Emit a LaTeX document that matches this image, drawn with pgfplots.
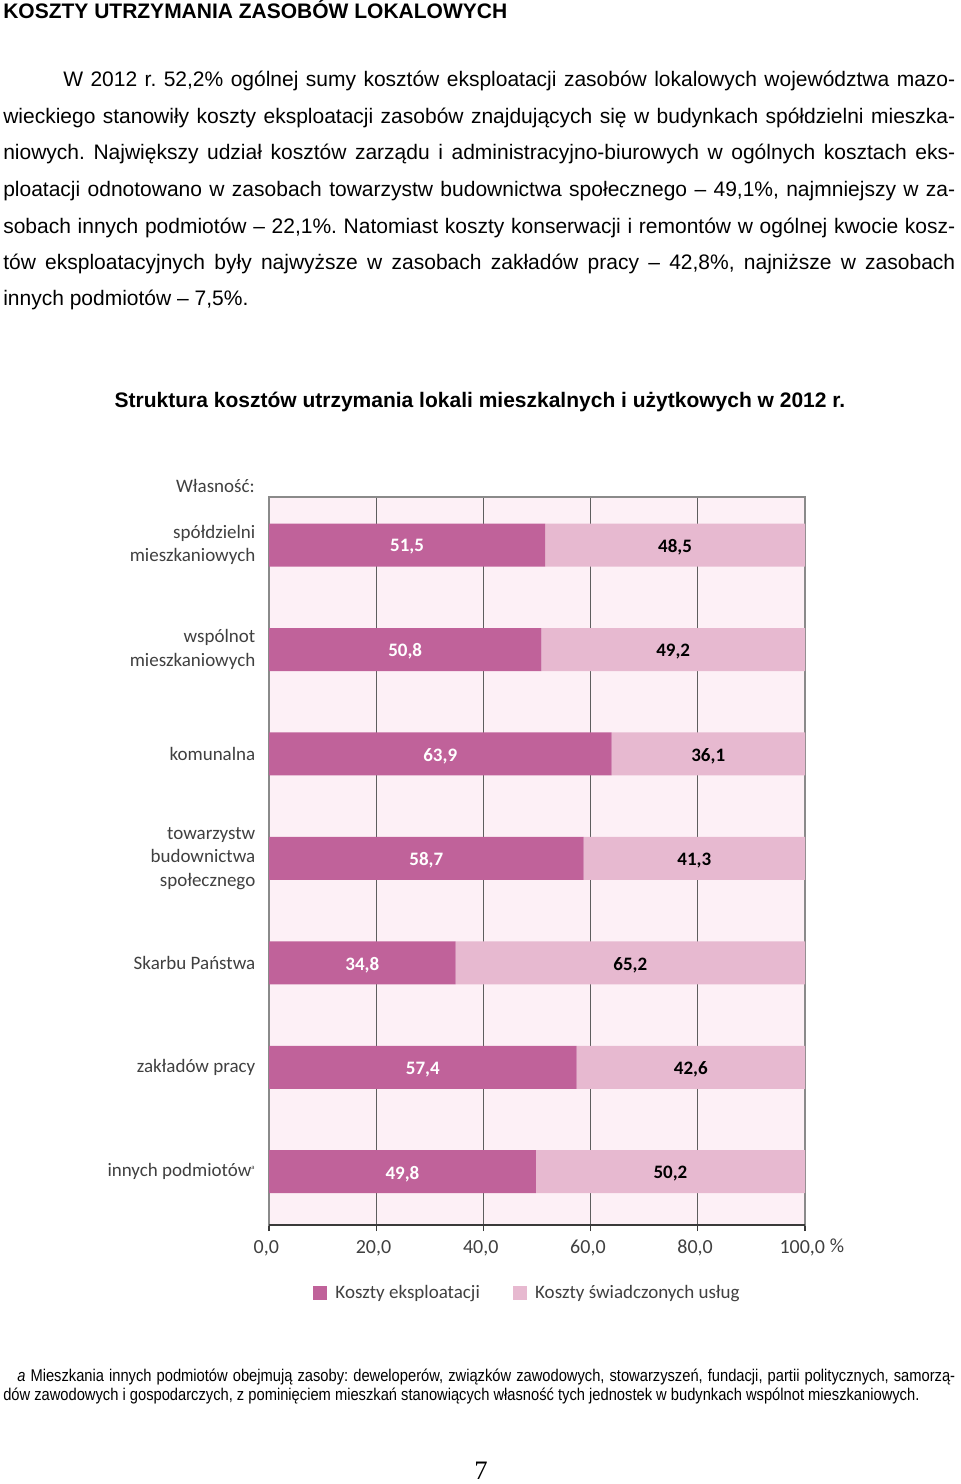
\documentclass[border=0pt]{standalone}
\usepackage{fontspec}
\setmainfont{Liberation Sans}
\newfontfamily\calibri{Carlito}
\newfontfamily\narrowfont[FakeStretch=0.865]{Liberation Sans}
\newfontfamily\timesfont{Liberation Serif}
\usepackage{pgfplots}
\pgfplotsset{compat=1.18}

\definecolor{expl}{HTML}{C0629A}
\definecolor{usl}{HTML}{E7B9D0}
\definecolor{bgp}{HTML}{FDF0F6}
\definecolor{txt}{HTML}{404040}
\definecolor{gridc}{HTML}{8A8A8A}
\definecolor{gridd}{HTML}{5E5E5E}
\definecolor{axisd}{HTML}{3A3A3A}

\newcommand\bodyfont{\fontsize{15.75}{18}\selectfont}
\newcommand\chartfont{\calibri\fontsize{14.25}{17.6}\selectfont}
\newcommand\tickfont{\calibri\fontsize{15}{18}\selectfont}
\frenchspacing

\begin{document}
\begin{tikzpicture}
\begin{scope}[x=0.75pt,y=-0.75pt]
\useasboundingbox (0,0) rectangle (960,1484);
\fill[white] (0,0) rectangle (960,1484);
\node[anchor=base west,inner sep=0] at (3,19) {\bodyfont\bfseries KOSZTY UTRZYMANIA ZASOBÓW LOKALOWYCH};
\begin{scope}[every node/.style={anchor=base west,inner sep=0,font=\bodyfont}]
\node at (63,87) {\makebox[669pt][s]{W 2012 r. 52,2\% ogólnej sumy kosztów eksploatacji zasobów lokalowych województwa mazo-}};
\node at (3,124) {\makebox[714pt][s]{wieckiego stanowiły koszty eksploatacji zasobów znajdujących się w budynkach spółdzielni mieszka-}};
\node at (3,160) {\makebox[714pt][s]{niowych. Największy udział kosztów zarządu i administracyjno-biurowych w ogólnych kosztach eks-}};
\node at (3,196) {\makebox[714pt][s]{ploatacji odnotowano w zasobach towarzystw budownictwa społecznego – 49,1\%, najmniejszy w za-}};
\node at (3,233) {\makebox[714pt][s]{sobach innych podmiotów – 22,1\%. Natomiast koszty konserwacji i remontów w ogólnej kwocie kosz-}};
\node at (3,269) {\makebox[714pt][s]{tów eksploatacyjnych były najwyższe w zasobach zakładów pracy – 42,8\%, najniższe w zasobach}};
\node at (3,305) {innych podmiotów – 7,5\%.};
\end{scope}
\node[anchor=base,inner sep=0] at (480,407) {\bodyfont\bfseries Struktura kosztów utrzymania lokali mieszkalnych i użytkowych w 2012 r.};
\node[anchor=base east,inner sep=0,text=txt] at (255,492) {\chartfont Własność:};
\node[anchor=base,inner sep=0,text=txt] at (837,1252) {\tickfont \%};
\begin{scope}[every node/.style={anchor=base west,inner sep=0,font=\narrowfont\fontsize{12.75}{14}\selectfont}]
\node at (17,1381) {\makebox[703.5pt][s]{\textit{a} Mieszkania innych podmiotów obejmują zasoby: deweloperów, związków zawodowych, stowarzyszeń, fundacji, partii politycznych, samorzą-}};
\node at (3,1400) {dów zawodowych i gospodarczych, z pominięciem mieszkań stanowiących własność tych jednostek w budynkach wspólnot mieszkaniowych.};
\end{scope}
\node[anchor=base,inner sep=0] at (481,1479) {\timesfont\fontsize{20}{24}\selectfont 7};
\end{scope}

\begin{axis}[
  at={(201.75pt,-918.75pt)}, anchor=south west,
  scale only axis, width=402pt, height=546pt,
  xbar stacked, bar width=32.25pt,
  xmin=0, xmax=100, ymin=-0.51, ymax=6.46,
  axis background/.style={fill=bgp},
  axis line style={gridc, line width=1pt},
  xmajorgrids, major grid style={gridd, line width=0.8pt},
  xtick={0,20,40,60,80,100},
  xticklabels={{0,0},{20,0},{40,0},{60,0},{80,0},{100,0}},
  xtick pos=bottom, tick align=outside, major tick length=4.5pt,
  xtick style={axisd, line width=0.8pt},
  ytick={0,1,2,3,4,5,6},
  yticklabels={{innych podmiotów\textsuperscript{\tiny a}},{zakładów pracy},{Skarbu Państwa},{towarzystw\\budownictwa\\społecznego},{komunalna},{wspólnot\\mieszkaniowych},{spółdzielni\\mieszkaniowych}},
  ytick style={draw=none},
  yticklabel style={align=right, font=\chartfont, text=txt, xshift=-2.25pt},
  xticklabel style={font=\tickfont, text=txt, text height=1.6ex, text depth=0.3ex, yshift=-5.25pt, xshift=-2pt},
  legend columns=2,
  legend style={draw=none, fill=none, at={(0.483,-0.0934)}, anchor=center,
    font=\chartfont, text=txt,
    /tikz/every odd column/.append style={column sep=4pt},
    /tikz/every even column/.append style={column sep=23pt}},
  legend image code/.code={\fill[#1] (0pt,-5.25pt) rectangle (10.5pt,5.25pt);},
  after end axis/.code={
    \draw[axisd, line width=1pt] (rel axis cs:0,0) -- (rel axis cs:1,0);
    \tikzset{dval/.style={font=\chartfont\bfseries,text=white,yshift=-1.5pt},
             lval/.style={font=\chartfont\bfseries,text=black,yshift=-1.5pt}}
    \node[dval] at (axis cs:24.9,0) {49,8};
    \node[dval] at (axis cs:28.7,1) {57,4};
    \node[dval] at (axis cs:17.4,2) {34,8};
    \node[dval] at (axis cs:29.35,3) {58,7};
    \node[dval] at (axis cs:31.95,4) {63,9};
    \node[dval] at (axis cs:25.4,5) {50,8};
    \node[dval] at (axis cs:25.75,6) {51,5};
    \node[lval] at (axis cs:74.9,0) {50,2};
    \node[lval] at (axis cs:78.7,1) {42,6};
    \node[lval] at (axis cs:67.4,2) {65,2};
    \node[lval] at (axis cs:79.35,3) {41,3};
    \node[lval] at (axis cs:81.95,4) {36,1};
    \node[lval] at (axis cs:75.4,5) {49,2};
    \node[lval] at (axis cs:75.75,6) {48,5};
  },
]
\addplot[fill=expl, draw=none] coordinates {(49.8,0) (57.4,1) (34.8,2) (58.7,3) (63.9,4) (50.8,5) (51.5,6)};
\addlegendentry{Koszty eksploatacji}
\addplot[fill=usl, draw=none] coordinates {(50.2,0) (42.6,1) (65.2,2) (41.3,3) (36.1,4) (49.2,5) (48.5,6)};
\addlegendentry{Koszty świadczonych usług}
\end{axis}
\end{tikzpicture}
\end{document}
